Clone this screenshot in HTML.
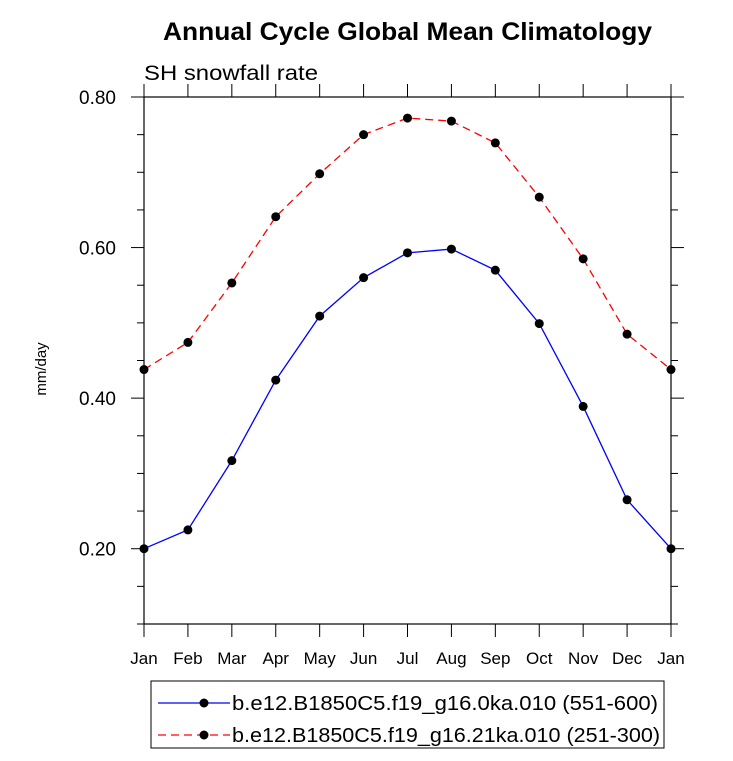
<!DOCTYPE html>
<html><head><meta charset="utf-8"><style>
body{margin:0;background:#fff;}
svg{display:block;font-family:"Liberation Sans",sans-serif;}
</style></head><body>
<svg id="c" width="733" height="761">
<text x="163" y="40" textLength="489" lengthAdjust="spacingAndGlyphs" font-size="25" font-weight="bold">Annual Cycle Global Mean Climatology</text>
<text x="144" y="80" textLength="174" lengthAdjust="spacingAndGlyphs" font-size="21">SH snowfall rate</text>
<text transform="translate(46,369) rotate(-90)" text-anchor="middle" font-size="15">mm/day</text>
<g id="axes"></g><g id="series"></g>
<g>
<rect x="151" y="681" width="513" height="67" fill="none" stroke="#000" stroke-width="1"/>
<line x1="158" y1="703" x2="230" y2="703" stroke="#00f" stroke-width="1.3"/>
<circle cx="204" cy="703" r="4.5"/>
<text x="232" y="710" textLength="426" lengthAdjust="spacingAndGlyphs" font-size="20">b.e12.B1850C5.f19_g16.0ka.010 (551-600)</text>
<line x1="158" y1="735" x2="230" y2="735" stroke="#f00" stroke-width="1.3" stroke-dasharray="8,5"/>
<circle cx="204" cy="735" r="4.5"/>
<text x="232" y="742" textLength="428" lengthAdjust="spacingAndGlyphs" font-size="20">b.e12.B1850C5.f19_g16.21ka.010 (251-300)</text>
</g>
</svg>
<script>
const months=["Jan","Feb","Mar","Apr","May","Jun","Jul","Aug","Sep","Oct","Nov","Dec","Jan"];
const series0ka=[0.200,0.225,0.317,0.424,0.509,0.560,0.593,0.598,0.570,0.499,0.389,0.265,0.200];
const series21ka=[0.438,0.474,0.553,0.641,0.698,0.750,0.772,0.768,0.739,0.667,0.585,0.485,0.438];
const yTicks=[0.20,0.40,0.60,0.80];
const yTickLabels=["0.20","0.40","0.60","0.80"];
const L=144,R=671,T=97,B=624,yMin=0.10,yMax=0.80;
const xs=i=>L+(R-L)*i/12;
const ys=v=>B-(v-yMin)/(yMax-yMin)*(B-T);
const NS="http://www.w3.org/2000/svg";
function mk(p,t,a){const e=document.createElementNS(NS,t);for(const k in a)e.setAttribute(k,a[k]);p.appendChild(e);return e;}
const ax=document.getElementById('axes');
const fr=mk(ax,'rect',{x:L,y:T,width:R-L,height:B-T,fill:'none',stroke:'#000','stroke-width':1.2});


months.forEach((m,i)=>{
  const x=xs(i);
  mk(ax,'line',{x1:x,y1:B,x2:x,y2:B+13,stroke:'#000','stroke-width':1});
  mk(ax,'line',{x1:x,y1:T,x2:x,y2:T-13,stroke:'#000','stroke-width':1});
  const t=mk(ax,'text',{x:x,y:B+40,'text-anchor':'middle','font-size':17});
  t.textContent=m;
  
  
});
for(let v=0.10;v<=0.801;v+=0.05){
  const y=ys(v);
  const major=yTicks.some(t=>Math.abs(t-v)<1e-6);
  const len=major?13:7;
  mk(ax,'line',{x1:L,y1:y,x2:L-len,y2:y,stroke:'#000','stroke-width':1});
  mk(ax,'line',{x1:R,y1:y,x2:R+len,y2:y,stroke:'#000','stroke-width':1});
}
yTicks.forEach((v,i)=>{
  const t=mk(ax,'text',{x:L-28,y:ys(v)+7,'text-anchor':'end','font-size':19});
  t.textContent=yTickLabels[i];
  
  
});
const sg=document.getElementById('series');
function draw(vals,color,dash,name){
  const pl=mk(sg,'polyline',{points:vals.map((v,i)=>xs(i)+','+ys(v)).join(' '),fill:'none',stroke:color,'stroke-width':1.3,'stroke-dasharray':dash});
  
  
  vals.forEach((v,i)=>{
    const c=mk(sg,'circle',{cx:xs(i),cy:ys(v),r:4.5,fill:'#000'});
    
    
  });
}
draw(series0ka,'#00f','none','series-0ka');
draw(series21ka,'#f00','8,5','series-21ka');
</script>
</body></html>
